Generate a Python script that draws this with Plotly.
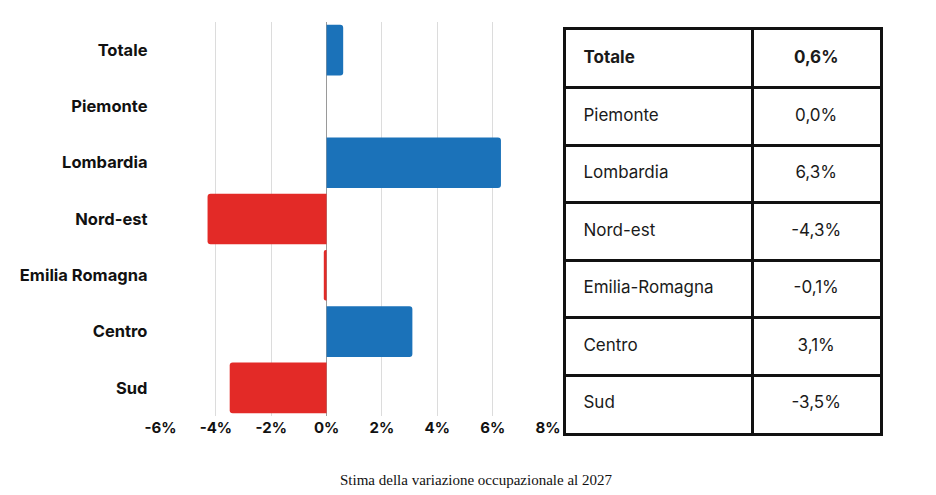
import plotly.graph_objects as go

regions = ["Totale", "Piemonte", "Lombardia", "Nord-est", "Emilia Romagna", "Centro", "Sud"]
values = [0.6, 0.0, 6.3, -4.3, -0.1, 3.1, -3.5]
table_labels = ["Totale", "Piemonte", "Lombardia", "Nord-est", "Emilia-Romagna", "Centro", "Sud"]
table_values = ["0,6%", "0,0%", "6,3%", "-4,3%", "-0,1%", "3,1%", "-3,5%"]
tick_vals = [-6, -4, -2, 0, 2, 4, 6, 8]
tick_text = ["-6%", "-4%", "-2%", "0%", "2%", "4%", "6%", "8%"]
caption = "Stima della variazione occupazionale al 2027"

BLUE = "#1b72b9"
RED = "#e32a27"
FONT = "Inter"
INK = "#111111"

# table geometry (in table-axis pixel units)
TABLE_W = 315
COL_SPLIT = 188
TEXT_PAD = 18

colors = [BLUE if v >= 0 else RED for v in values]

fig = go.Figure()
fig.add_trace(go.Bar(
    x=values, y=regions, orientation="h",
    marker=dict(color=colors, cornerradius=3, line=dict(width=0)),
    showlegend=False, hoverinfo="skip",
))

# table drawn on a second pair of axes
label_text = [f"<b>{t}</b>" if i == 0 else t for i, t in enumerate(table_labels)]
value_text = [f"<b>{t}</b>" if i == 0 else t for i, t in enumerate(table_values)]
fig.add_trace(go.Scatter(
    x=[TEXT_PAD] * len(table_labels), y=table_labels,
    mode="text", text=label_text, textposition="middle right",
    textfont=dict(family=FONT, size=17, color="#1a1a1a"),
    xaxis="x2", yaxis="y2", showlegend=False, hoverinfo="skip", cliponaxis=False,
))
fig.add_trace(go.Scatter(
    x=[(COL_SPLIT + TABLE_W) / 2] * len(table_values), y=table_labels,
    mode="text", text=value_text, textposition="middle center",
    textfont=dict(family=FONT, size=17, color="#1a1a1a"),
    xaxis="x2", yaxis="y2", showlegend=False, hoverinfo="skip", cliponaxis=False,
))

n_rows = len(table_labels)

fig.update_layout(
    width=936, height=495,
    margin=dict(l=0, r=0, t=0, b=0),
    paper_bgcolor="white", plot_bgcolor="white",
    bargap=0.1,
    xaxis=dict(
        domain=[160.5/936, 548/936],
        range=[-6, 8],
        tickvals=tick_vals, ticktext=tick_text,
        showgrid=True, gridcolor="#dcdcdc", gridwidth=1,
        zeroline=True, zerolinecolor="#9a9a9a", zerolinewidth=1,
        showline=False, automargin=False,
        tickfont=dict(family=FONT, size=15, color=INK, weight="bold"),
        ticks="", ticklabelstandoff=1,
        fixedrange=True,
    ),
    yaxis=dict(
        domain=[1-416/495, 1-22/495],
        categoryorder="array", categoryarray=regions,
        autorange="reversed",
        showgrid=False, showline=False, zeroline=False, automargin=False,
        tickfont=dict(family=FONT, size=16.5, color=INK, weight="bold"),
        ticks="", ticklabelstandoff=12,
        fixedrange=True,
    ),
    xaxis2=dict(
        domain=[565.5/936, 879.5/936], anchor="y2",
        range=[0, TABLE_W],
        tickvals=[COL_SPLIT], showticklabels=False, ticks="",
        showgrid=True, gridcolor=INK, gridwidth=3,
        zeroline=False, showline=True, linecolor=INK, linewidth=3, mirror=True,
        automargin=False, fixedrange=True,
    ),
    yaxis2=dict(
        domain=[1-432.5/495, 1-30/495], anchor="x2",
        categoryorder="array", categoryarray=table_labels,
        range=[n_rows - 0.5, -0.5], tickson="boundaries",
        showticklabels=False, ticks="",
        showgrid=True, gridcolor=INK, gridwidth=3,
        zeroline=False, showline=True, linecolor=INK, linewidth=3, mirror=True,
        automargin=False, fixedrange=True,
    ),
    annotations=[dict(
        text=caption, x=0.509, y=1-480/495, xref="paper", yref="paper",
        xanchor="center", yanchor="middle", showarrow=False,
        font=dict(family="Liberation Serif", size=15, color=INK),
    )],
)

fig.write_html("out.html")
